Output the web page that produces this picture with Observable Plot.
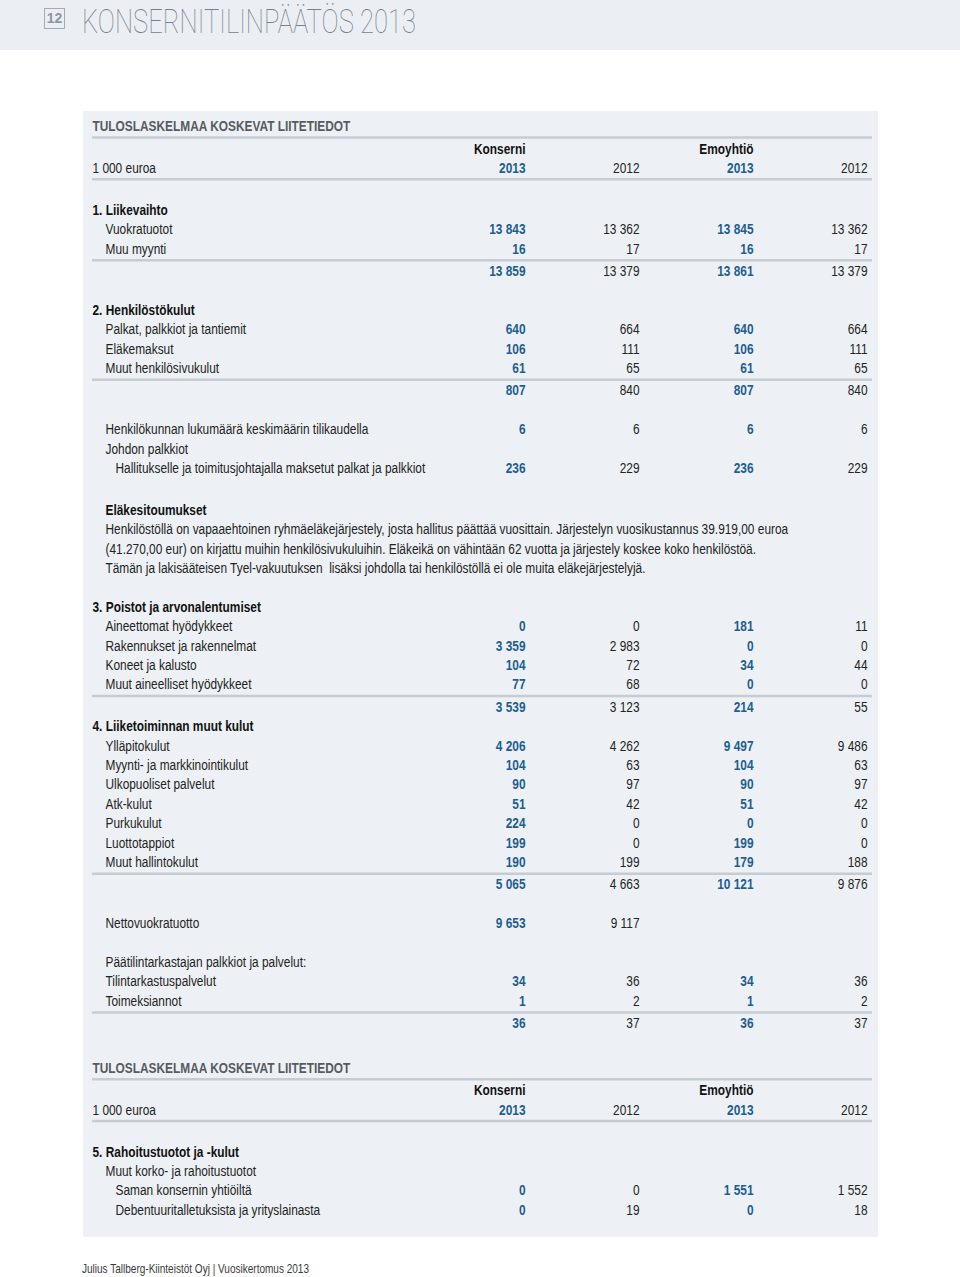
<!DOCTYPE html>
<html>
<head>
<meta charset="utf-8">
<script src="https://cdn.jsdelivr.net/npm/d3@7"></script>
<script src="https://cdn.jsdelivr.net/npm/@observablehq/plot@0.6"></script>
<style>
  body { margin:0; width:960px; height:1277px; position:relative; background:#fff; overflow:hidden;
         font-family:"Liberation Sans",Arial,sans-serif; }
  #band { position:absolute; left:0; top:0; width:960px; height:50px; background:#ebeff3; }
  #pageno { position:absolute; left:44px; top:8px; width:19px; height:19px; border:1.5px solid #a3abb3;
            color:#8e979f; font:bold 14px "Liberation Sans",sans-serif; text-align:center; line-height:19px; }
  #title { position:absolute; left:82px; top:2px; font-family:Roboto,"Liberation Sans",sans-serif; font-weight:100;
           font-size:33px; color:#76818b; white-space:nowrap; transform-origin:0 0; }
  #panel { position:absolute; left:83px; top:111px; width:795px; height:1126px; background:#edf1f5; }
  #footer { position:absolute; left:82px; top:1261px; font-size:13.5px; color:#3a3a3a; white-space:nowrap; transform-origin:0 0; }
</style>
</head>
<body>
<div id="band"></div>
<div id="pageno">12</div>
<div id="title">KONSERNITILINPÄÄTÖS 2013</div>
<div id="panel"></div>
<div id="footer">Julius Tallberg-Kiinteistöt Oyj | Vuosikertomus 2013</div>
<script>
// ---- data ----
const rowKinds = [
  "title","colhead","yearhead","blank",
  "section","item","item","total","blank",
  "section","item","item","item","total","blank",
  "item","item","subitem","blank",
  "notehead","note","note","note","blank",
  "section","item","item","item","item","total",
  "section","item","item","item","item","item","item","item","total","blank",
  "item","blank",
  "item","item","item","total","blank",
  "title","colhead","yearhead","blank",
  "section","item","subitem","subitem"
];
const rowLabels = [
  "TULOSLASKELMAA KOSKEVAT LIITETIEDOT","","1 000 euroa","",
  "1. Liikevaihto","Vuokratuotot","Muu myynti","","",
  "2. Henkilöstökulut","Palkat, palkkiot ja tantiemit","Eläkemaksut","Muut henkilösivukulut","","",
  "Henkilökunnan lukumäärä keskimäärin tilikaudella","Johdon palkkiot","Hallitukselle ja toimitusjohtajalla maksetut palkat ja palkkiot","",
  "Eläkesitoumukset",
  "Henkilöstöllä on vapaaehtoinen ryhmäeläkejärjestely, josta hallitus päättää vuosittain. Järjestelyn vuosikustannus 39.919,00 euroa",
  "(41.270,00 eur) on kirjattu muihin henkilösivukuluihin. Eläkeikä on vähintään 62 vuotta ja järjestely koskee koko henkilöstöä.",
  "Tämän ja lakisääteisen Tyel-vakuutuksen  lisäksi johdolla tai henkilöstöllä ei ole muita eläkejärjestelyjä.","",
  "3. Poistot ja arvonalentumiset","Aineettomat hyödykkeet","Rakennukset ja rakennelmat","Koneet ja kalusto","Muut aineelliset hyödykkeet","",
  "4. Liiketoiminnan muut kulut","Ylläpitokulut","Myynti- ja markkinointikulut","Ulkopuoliset palvelut","Atk-kulut","Purkukulut","Luottotappiot","Muut hallintokulut","","",
  "Nettovuokratuotto","",
  "Päätilintarkastajan palkkiot ja palvelut:","Tilintarkastuspalvelut","Toimeksiannot","","",
  "TULOSLASKELMAA KOSKEVAT LIITETIEDOT","","1 000 euroa","",
  "5. Rahoitustuotot ja -kulut","Muut korko- ja rahoitustuotot","Saman konsernin yhtiöiltä","Debentuuritalletuksista ja yrityslainasta"
];
const _ = null;
const konserni2013 = [_,_,_,_, _,13843,16,13859,_, _,640,106,61,807,_, 6,_,236,_, _,_,_,_,_, _,0,3359,104,77,3539, _,4206,104,90,51,224,199,190,5065,_, 9653,_, _,34,1,36,_, _,_,_,_, _,_,0,0];
const konserni2012 = [_,_,_,_, _,13362,17,13379,_, _,664,111,65,840,_, 6,_,229,_, _,_,_,_,_, _,0,2983,72,68,3123, _,4262,63,97,42,0,0,199,4663,_, 9117,_, _,36,2,37,_, _,_,_,_, _,_,0,19];
const emo2013 =      [_,_,_,_, _,13845,16,13861,_, _,640,106,61,807,_, 6,_,236,_, _,_,_,_,_, _,181,0,34,0,214, _,9497,104,90,51,0,199,179,10121,_, _,_, _,34,1,36,_, _,_,_,_, _,_,1551,0];
const emo2012 =      [_,_,_,_, _,13362,17,13379,_, _,664,111,65,840,_, 6,_,229,_, _,_,_,_,_, _,11,0,44,0,55, _,9486,63,97,42,0,0,188,9876,_, _,_, _,36,2,37,_, _,_,_,_, _,_,1552,18];
const columnKeys = ["k2013","k2012","e2013","e2012"];
const columnYears = ["2013","2012","2013","2012"];
const groupNames = ["Konserni","Emoyhtiö"];
const series = [konserni2013, konserni2012, emo2013, emo2012];

// ---- layout (computed from row kinds) ----
const W = 795, H = 1126, STEP = 19.4;
const ruledAfter = new Set(["title","yearhead"]);
const ys = [];
let y = 15;
rowKinds.forEach((k, i) => {
  if (i > 0) {
    let s = STEP;
    if (ruledAfter.has(rowKinds[i-1])) s += 3;
    if (k === "total") s += 3;
    if (k === "title") s += 6;
    if (k === "notehead") s += 3;
    y += s;
  }
  ys.push(y);
});
const rules = [];
rowKinds.forEach((k, i) => {
  if (ruledAfter.has(k)) rules.push(ys[i] + 11);
  if (k === "total") rules.push(ys[i] - 11);
});

const fmt = v => d3.format(",")(v).replace(/,/g, " ");
const rows = rowKinds.map((k, i) => ({kind: k, label: rowLabels[i], y: ys[i]}));
const cells = [];
rowKinds.forEach((k, i) => {
  series.forEach((s, c) => {
    if (s[i] != null) cells.push({col: columnKeys[c], y: ys[i], text: fmt(s[i]), bold: c % 2 === 0});
  });
  if (k === "yearhead") columnKeys.forEach((col, c) => cells.push({col, y: ys[i], text: columnYears[c], bold: c % 2 === 0}));
});
const heads = [];
rowKinds.forEach((k, i) => {
  if (k === "colhead") { heads.push({col: "k2013", y: ys[i], text: groupNames[0]}); heads.push({col: "e2013", y: ys[i], text: groupNames[1]}); }
});

const BLUE = "#1d5d91", INK = "#232323";
const FONT = '"Liberation Sans",Arial,sans-serif';
const FS = 14.5;
const pick = (...kinds) => rows.filter(r => kinds.includes(r.kind) && r.label);
const labelOpts = {y: "y", text: "label", frameAnchor: "left", textAnchor: "start", lineAnchor: "middle", fontSize: FS};

const chart = Plot.plot({
  width: W, height: H,
  marginLeft: 9, marginRight: 6, marginTop: 0, marginBottom: 0,
  style: {fontFamily: FONT, background: "transparent", overflow: "visible"},
  x: {type: "point", domain: columnKeys, range: [441.5, 785], padding: 0, axis: null},
  y: {type: "linear", domain: [0, H], range: [0, H], axis: null},
  marks: [
    Plot.ruleY(rules, {y: d => d, stroke: "#c6ccd2", strokeWidth: 2.5}),
    Plot.text(pick("title"), {...labelOpts, fontWeight: "bold", fill: "#565b61"}),
    Plot.text(pick("section"), {...labelOpts, fontWeight: "bold", fill: "#111"}),
    Plot.text(pick("yearhead"), {...labelOpts, fill: INK}),
    Plot.text(pick("item", "note"), {...labelOpts, dx: 13, fill: INK}),
    Plot.text(pick("notehead"), {...labelOpts, dx: 13, fontWeight: "bold", fill: "#111"}),
    Plot.text(pick("subitem"), {...labelOpts, dx: 23, fill: INK}),
    Plot.text(heads, {x: "col", y: "y", text: "text", textAnchor: "end", lineAnchor: "middle", fontSize: FS, fontWeight: "bold", fill: "#111"}),
    Plot.text(cells.filter(d => d.bold), {x: "col", y: "y", text: "text", textAnchor: "end", lineAnchor: "middle", fontSize: FS, fontWeight: "bold", fill: BLUE}),
    Plot.text(cells.filter(d => !d.bold), {x: "col", y: "y", text: "text", textAnchor: "end", lineAnchor: "middle", fontSize: FS, fill: INK})
  ]
});
document.getElementById("panel").appendChild(chart);

// condense the type: scale each text horizontally around its own anchor
const texts = [...chart.querySelectorAll("text")];
const probe = texts.find(t => t.textContent === "Henkilökunnan lukumäärä keskimäärin tilikaudella");
const sx = probe ? 263 / probe.getComputedTextLength() : 0.8;
texts.forEach(t => {
  let tr = t.getAttribute("transform");
  if (!tr) {
    tr = `translate(${t.getAttribute("x") || 0},${t.getAttribute("y") || 0})`;
    t.removeAttribute("x"); t.removeAttribute("y");
  }
  t.setAttribute("transform", `${tr} scale(${sx},1)`);
});

// fit title and footer widths
const fit = (id, target) => { const el = document.getElementById(id); el.style.transform = `scaleX(${target / el.getBoundingClientRect().width})`; };
fit("title", 334);
fit("footer", 227);
</script>
</body>
</html>
